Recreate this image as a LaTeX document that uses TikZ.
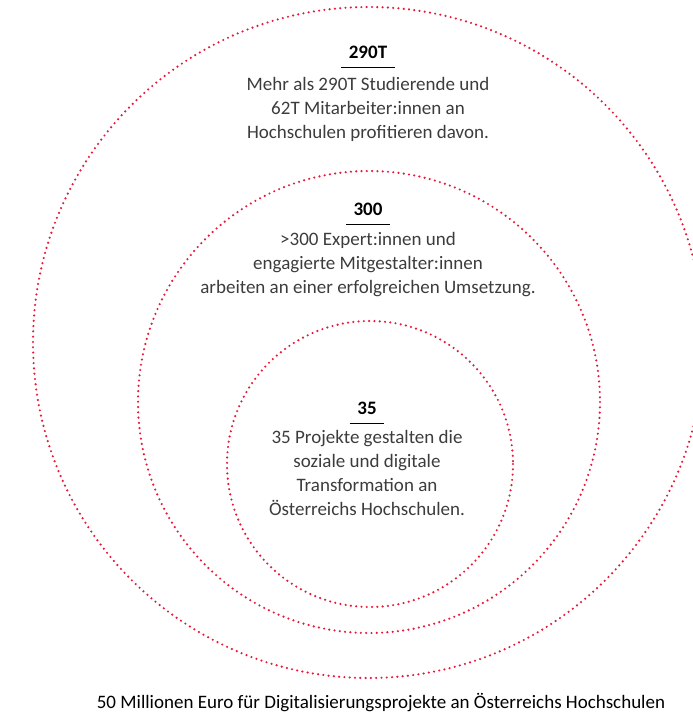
\documentclass[tikz,border=0pt]{standalone}
\usepackage{fontspec}
\setmainfont{Carlito}
\usetikzlibrary{positioning}
\definecolor{ringred}{RGB}{232,24,56}
\definecolor{bodygray}{RGB}{60,60,60}
\tikzset{
	ring/.style={draw=ringred, line width=2.4pt, line cap=round, dash pattern=on 0pt off 5.3pt},
	headline/.style={font=\fontsize{19}{22}\selectfont\bfseries, text=black, inner xsep=7.5pt, inner ysep=9pt},
	bodytext/.style={font=\fontsize{19}{24}\selectfont, text=bodygray, align=center, inner sep=0pt},
	rule/.style={line width=1.6pt, black}
}

\begin{document}
\begin{tikzpicture}[x=1pt, y=-1pt]
		%%%%% START %%%%%
		
		\useasboundingbox (0, 0) rectangle (693, 716);
		\clip (0, 0) rectangle (693, 716);
		
		\draw[ring] (368.5, 342.5) circle (335.5);
		\draw[ring] (369, 402) circle (231);
		\draw[ring] (370, 464) circle (143);
		
		\node[headline] (h1) at (368, 52) {290T};
		\draw[rule] (h1.south west) -- (h1.south east);
		\node[bodytext, below=10pt of h1.south] (b1) {Mehr als 290T Studierende und\\62T Mitarbeiter:innen an\\Hochschulen profitieren davon.};
		
		\node[headline] (h2) at (368, 209) {300};
		\draw[rule] (h2.south west) -- (h2.south east);
		\node[bodytext, below=8pt of h2.south] (b2) {>300 Expert:innen und\\engagierte Mitgestalter:innen\\arbeiten an einer erfolgreichen Umsetzung.};
		
		\node[headline] (h3) at (367, 408) {35};
		\draw[rule] (h3.south west) -- (h3.south east);
		\node[bodytext, below=7pt of h3.south] (b3) {35 Projekte gestalten die\\soziale und digitale\\Transformation an\\Österreichs Hochschulen.};
		
		\node[bodytext, text=black] (cap) at (381, 703) {50 Millionen Euro für Digitalisierungsprojekte an Österreichs Hochschulen};
		
		%%%%% END %%%%%
\end{tikzpicture}
\end{document}
